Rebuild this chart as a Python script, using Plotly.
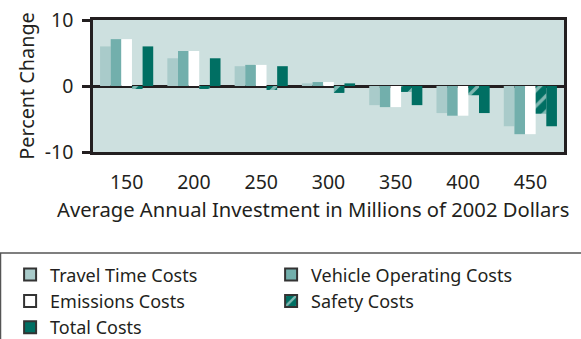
import plotly.graph_objects as go

# Average annual investment levels (millions of 2002 dollars)
categories = ["150", "200", "250", "300", "350", "400", "450"]

# Percent change in each cost component
travel_time = [6.0, 4.2, 3.0, 0.4, -2.9, -4.1, -6.1]
vehicle_operating = [7.1, 5.3, 3.2, 0.6, -3.2, -4.5, -7.3]
emissions = [7.1, 5.3, 3.2, 0.6, -3.2, -4.5, -7.3]
safety = [-0.45, -0.45, -0.6, -1.05, -0.9, -1.4, -4.2]
total = [6.0, 4.2, 3.0, 0.4, -2.9, -4.1, -6.1]

y_ticks = [-10, 0, 10]

FONT = "Noto Sans"
DARK = "#231f20"
TEAL = "#006f63"

series = [
    ("Travel Time Costs", travel_time, "#a9cbca", None),
    ("Vehicle Operating Costs", vehicle_operating, "#72afac", None),
    ("Emissions Costs", emissions, "#ffffff", None),
    ("Safety Costs", safety, TEAL,
     dict(shape="/", fgcolor="#ffffff", bgcolor=TEAL, size=11, solidity=0.3)),
    ("Total Costs", total, TEAL, None),
]

fig = go.Figure()

for name, values, color, pattern in series:
    marker = dict(color=color, line=dict(width=0))
    if pattern:
        marker["pattern"] = pattern
    fig.add_trace(go.Bar(x=categories, y=values, name=name, marker=marker,
                         showlegend=False, legendgroup=name))

# Legend swatches with outlined squares, kept on a hidden overlay axis
for name, values, color, pattern in series:
    marker = dict(color=color, line=dict(width=2, color="#333333"))
    if pattern:
        marker["pattern"] = pattern
    fig.add_trace(go.Bar(x=[None], y=[None], name=name, marker=marker,
                         xaxis="x2", yaxis="y2", legendgroup=name,
                         showlegend=True))

fig.update_layout(
    width=581,
    height=339,
    margin=dict(l=93, r=17, t=20, b=187, autoexpand=False),
    paper_bgcolor="#ffffff",
    plot_bgcolor="#cde0df",
    barmode="group",
    bargap=0.21,
    bargroupgap=0,
    font=dict(family=FONT, size=18, color="#231f20"),
    xaxis=dict(
        type="category",
        categoryorder="array",
        categoryarray=categories,
        showline=True,
        linecolor=DARK,
        linewidth=3,
        mirror=True,
        ticks="",
        ticklabelstandoff=11,
        tickfont=dict(size=19.5),
    ),
    yaxis=dict(
        range=[-10, 10],
        tickvals=y_ticks,
        ticktext=[str(v) for v in y_ticks],
        showgrid=False,
        showline=True,
        linecolor=DARK,
        linewidth=2.5,
        mirror=True,
        ticks="outside",
        ticklen=8,
        tickwidth=2.5,
        tickcolor=DARK,
        ticklabelstandoff=5,
        tickfont=dict(size=19.5),
        zeroline=True,
        zerolinecolor=DARK,
        zerolinewidth=2.5,
        title=dict(text="Percent Change", font=dict(size=19.8), standoff=5),
    ),
    xaxis2=dict(overlaying="x", visible=False),
    yaxis2=dict(overlaying="y", visible=False),
    legend=dict(
        orientation="h",
        x=-0.176,
        xanchor="left",
        y=-0.79,
        yanchor="top",
        entrywidth=216,
        entrywidthmode="pixels",
        font=dict(size=18),
        bgcolor="rgba(0,0,0,0)",
        traceorder="normal",
    ),
    annotations=[
        dict(text="Average Annual Investment in Millions of 2002 Dollars",
             xref="paper", yref="paper",
             x=(312.5 - 93) / 471, y=(152 - 209) / 132,
             xanchor="center", yanchor="middle", showarrow=False,
             font=dict(size=20.2)),
    ],
    shapes=[
        dict(type="rect", xref="paper", yref="paper",
             x0=-92.5 / 471, x1=600 / 471 - 93 / 471,
             y0=-(339 - 152 + 20) / 132, y1=-(253 - 152) / 132,
             line=dict(color="#555555", width=1.5), fillcolor="rgba(0,0,0,0)",
             layer="below"),
    ],
)

fig.write_html("out.html")
